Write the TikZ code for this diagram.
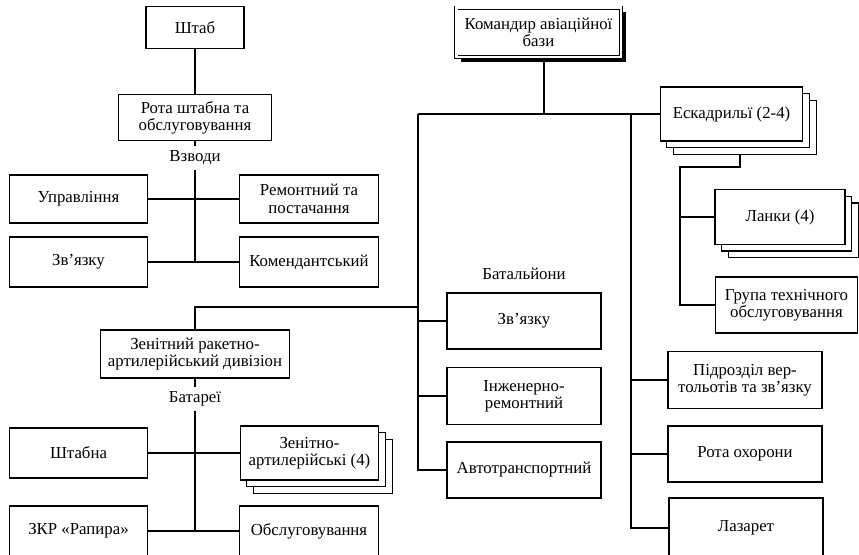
\documentclass[tikz,border=0pt]{standalone}
\usepackage{fontspec}
\setmainfont{Liberation Serif}
\usetikzlibrary{shadows}
\tikzset{
	box/.style={draw, fill=white, align=center, inner sep=1pt, font=\fontsize{12.6}{13}\selectfont},
	stack/.style={box,
		general shadow={shadow xshift=10pt, shadow yshift=-10pt, fill=white, draw},
		general shadow={shadow xshift=5pt, shadow yshift=-5pt, fill=white, draw}},
	chief/.style={box, double, double distance=2pt, line width=0.7pt,
		general shadow={shadow xshift=3.5pt, shadow yshift=-3.5pt, fill=black, draw=none}},
	grouptext/.style={inner sep=3pt, font=\fontsize{12.6}{13}\selectfont}
}

\begin{document}
\begin{tikzpicture}[x=0.75pt, y=-0.75pt, line width=0.8pt]
	%%%%% START %%%%%
	\useasboundingbox (0, 0) rectangle (859, 555);
	\clip (0, 0) rectangle (859, 555);
	
	% headquarters company
	\node[box, minimum width=73.5pt, minimum height=32pt] (shtab) at (195, 27.5) {Штаб};
	\node[box, minimum width=115pt, minimum height=35pt] (rota) at (195, 117.5) {Рота штабна та\\обслуговування};
	\node[grouptext] (vzv) at (195, 158) {Взводи};
	\node[box, minimum width=104pt, minimum height=36pt] (upr) at (78.5, 199) {Управління};
	\node[box, minimum width=104pt, minimum height=36pt] (rem) at (309, 199) {Ремонтний та\\постачання};
	\node[box, minimum width=104pt, minimum height=37.5pt] (zv) at (78.5, 262) {Зв’язку};
	\node[box, minimum width=104pt, minimum height=37.5pt] (kom) at (309, 262) {Комендантський};
	
	\draw (shtab) -- (rota);
	\draw (rota) -- (vzv);
	\draw (vzv) -- (vzv |- zv);
	\draw (upr) -- (rem);
	\draw (zv) -- (kom);
	
	% air defence battalion
	\node[box, minimum width=142pt, minimum height=36pt] (zrad) at (195, 354) {Зенітний ракетно-\\артилерійський дивізіон};
	\node[grouptext] (bat) at (195, 399) {Батареї};
	\node[box, minimum width=104pt, minimum height=37.5pt] (shtabna) at (78.5, 453) {Штабна};
	\node[stack, minimum width=104pt, minimum height=40.5pt] (zenart) at (309.5, 453) {Зенітно-\\артилерійські (4)};
	\node[box, minimum width=104pt, minimum height=37.5pt] (zkr) at (78.5, 531) {ЗКР «Рапира»};
	\node[box, minimum width=104pt, minimum height=37.5pt] (obsl) at (309, 531) {Обслуговування};
	
	\draw (zrad) -- (bat);
	\draw (bat) -- (bat |- zkr);
	\draw (shtabna) -- (zenart);
	\draw (zkr) -- (obsl);
	
	% commander
	\node[chief, minimum width=123.5pt, minimum height=37pt] (cmd) at (538.5, 32.5) {Командир авіаційної\\бази};
	
	% battalions
	\node[grouptext] (batl) at (524, 274) {Батальйони};
	\node[box, minimum width=115.5pt, minimum height=42pt] (zvb) at (524, 321) {Зв’язку};
	\node[box, minimum width=115.5pt, minimum height=42.5pt] (inzh) at (524, 396) {Інженерно-\\ремонтний};
	\node[box, minimum width=115.5pt, minimum height=42pt] (avto) at (524, 470) {Автотранспортний};
	
	% squadrons and others
	\node[stack, minimum width=107pt, minimum height=40.5pt] (esk) at (731.5, 114) {Ескадрильї (2-4)};
	\node[stack, minimum width=97.5pt, minimum height=41pt] (lanky) at (780, 217) {Ланки (4)};
	\node[box, minimum width=107pt, minimum height=42pt] (grupa) at (786.5, 305) {Група технічного\\обслуговування};
	\node[box, minimum width=115.5pt, minimum height=42.5pt] (pidr) at (745, 380) {Підрозділ вер-\\тольотів та зв’язку};
	\node[box, minimum width=115.5pt, minimum height=42pt] (okh) at (745, 454) {Рота охорони};
	\node[box, minimum width=115.5pt, minimum height=45pt] (laz) at (746, 528) {Лазарет};
	
	\coordinate (top) at (544, 114);
	\coordinate (west) at (418, 114);
	\coordinate (east) at (631, 114);
	\coordinate (mid) at (418, 307);
	\coordinate (eskfoot) at ([yshift=-10pt]esk.south);
	\coordinate (eskdown) at (740, 167);
	\coordinate (lnk) at (680, 167);
	
	\draw (cmd.south -| top) -- (top);
	\draw (west) -- (esk.west);
	\draw (west) |- (avto.west);
	\draw (west |- zvb) -- (zvb.west);
	\draw (west |- inzh) -- (inzh.west);
	\draw (mid) -| (zrad.north);
	\draw (east) |- (laz.west);
	\draw (east |- pidr) -- (pidr.west);
	\draw (east |- okh) -- (okh.west);
	\draw (eskfoot -| eskdown) -- (eskdown) -- (lnk) |- (grupa.west);
	\draw (lnk |- lanky) -- (lanky.west);
	%%%%% END %%%%%
\end{tikzpicture}
\end{document}
